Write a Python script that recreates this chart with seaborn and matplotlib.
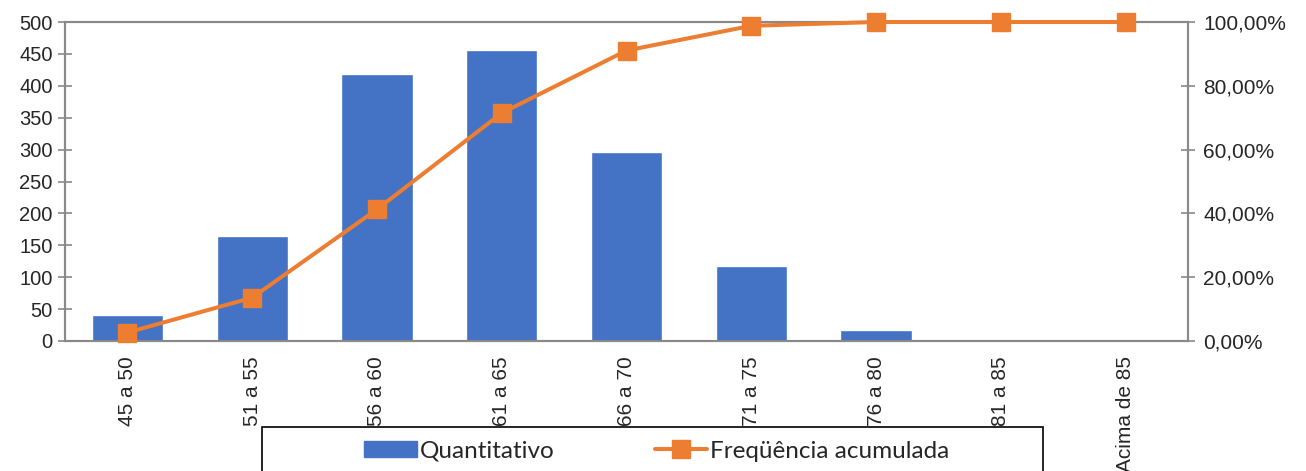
import matplotlib
matplotlib.use("Agg")
import matplotlib.pyplot as plt
import numpy as np
import pandas as pd
import seaborn as sns
from matplotlib.lines import Line2D
from matplotlib.patches import Patch, Rectangle
from matplotlib.ticker import FuncFormatter

sns.set_theme(style="white")
plt.rcParams["font.family"] = ["Liberation Sans", "DejaVu Sans"]

faixas = ["45 a 50", "51 a 55", "56 a 60", "61 a 65", "66 a 70",
          "71 a 75", "76 a 80", "81 a 85", "Acima de 85"]
quantitativo = [40, 165, 418, 456, 296, 117, 18, 0, 0]
freq_acumulada = [0.0265, 0.1358, 0.4126, 0.7146, 0.9106, 0.9881, 1.0, 1.0, 1.0]

BLUE = "#4472C4"
ORANGE = "#ED7D31"
GRAY = "#898989"

df = pd.DataFrame({"faixa": faixas, "quantitativo": quantitativo, "acum": freq_acumulada})

fig = plt.figure(figsize=(13.06, 4.71), dpi=100)
ax = fig.add_axes([65 / 1306, 1 - 341 / 471, (1188 - 65) / 1306, (341 - 22) / 471])

sns.barplot(df, x="faixa", y="quantitativo", color=BLUE, width=0.57, saturation=1, ax=ax)
ax.set_ylim(0, 500)
ax.set_xlim(-0.5, len(faixas) - 0.5)
ax.set_yticks(np.arange(0, 501, 50))
ax.set_xlabel("")
ax.set_ylabel("")

ax2 = ax.twinx()
ax2.plot(np.arange(len(faixas)), df["acum"], color=ORANGE, lw=2.9, marker="s",
         markersize=12.5, markeredgecolor=ORANGE, zorder=3, clip_on=False)
ax2.set_ylim(0, 1)
ax2.set_yticks(np.arange(0, 1.01, 0.2))
ax2.yaxis.set_major_formatter(FuncFormatter(lambda v, _: f"{v * 100:.2f}%".replace(".", ",")))

for a in (ax, ax2):
    for s in a.spines.values():
        s.set_color(GRAY)
        s.set_linewidth(1.5)
        s.set_visible(True)

ax.tick_params(axis="y", direction="inout", length=10, width=1.2, color=GRAY, labelsize=14.5, pad=4)
ax2.tick_params(axis="y", direction="inout", length=10, width=1.2, color=GRAY, labelsize=15, pad=6)
ax.set_xticks(np.arange(len(faixas)))
ax.set_xticklabels(faixas, rotation=90, fontsize=15, va="top", ha="center")
ax.tick_params(axis="x", which="major", length=0, pad=11)
ax.set_xticks(np.arange(-0.5, len(faixas), 1), minor=True)
ax.tick_params(axis="x", which="minor", direction="out", length=8, width=1.2, color=GRAY)

handles = [
    Patch(facecolor=BLUE, edgecolor=BLUE),
    Line2D([], [], color=ORANGE, lw=2.9, marker="s", markersize=12.5),
]
fig.legend(handles, ["Quantitativo", "Freqüência acumulada"], loc="center",
           bbox_to_anchor=(657 / 1306, 1 - 451 / 471), ncol=2, frameon=False,
           prop={"family": "Lato", "size": 17.5}, handlelength=2.15, handleheight=0.6,
           handletextpad=0.15, columnspacing=4.1)
fig.patches.append(Rectangle((262 / 1306, -0.2), 781 / 1306, 0.2 + (471 - 427) / 471,
                             transform=fig.transFigure, fill=False, edgecolor="black", lw=1.2))

fig.savefig("out.png", dpi=100)
